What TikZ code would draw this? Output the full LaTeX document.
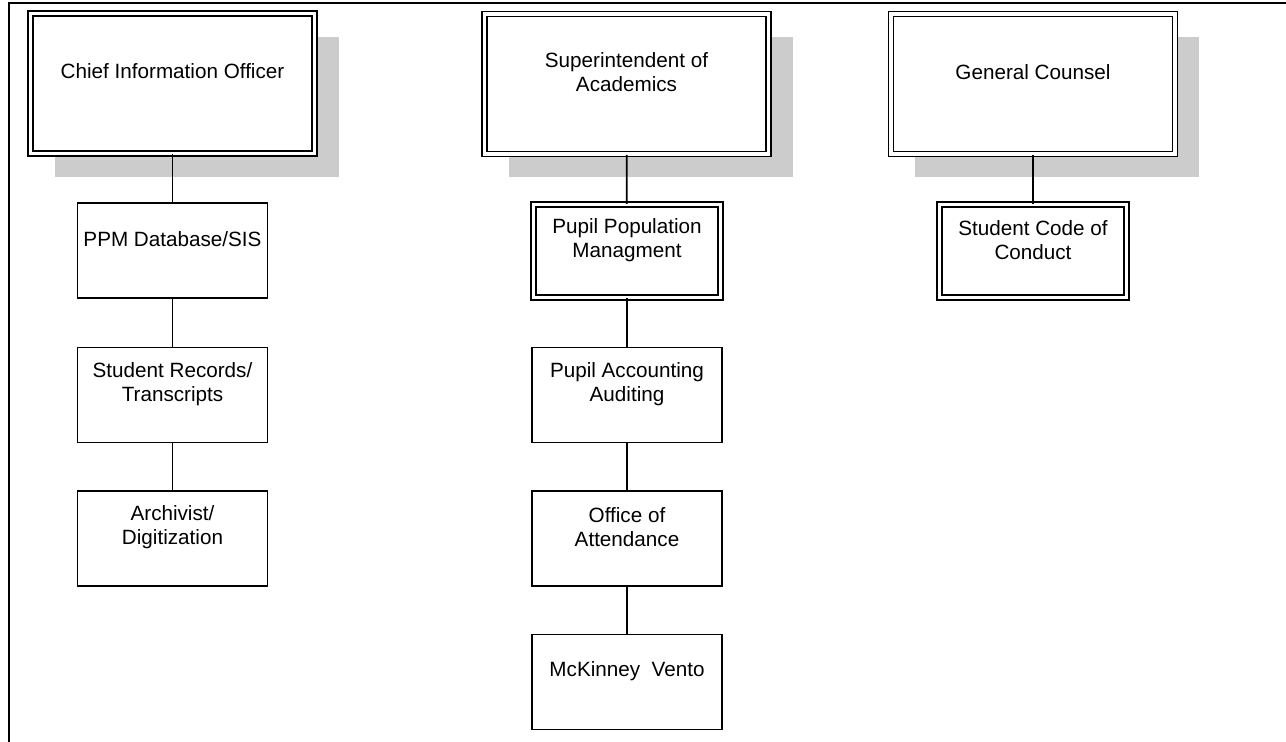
\documentclass[tikz,border=0pt]{standalone}
\usepackage{fontspec}
\setmainfont{Liberation Sans}
\usetikzlibrary{shadows}

\definecolor{shadowgray}{gray}{0.8}

\tikzset{
  boxtext/.style n args={3}{
    execute at begin node={\fontsize{15.5}{18}\selectfont\begin{minipage}[c][#1][t]{#2}\vbox to #3\bgroup\vfil\centering},
    execute at end node={\par\vfil\egroup\end{minipage}}},
  head/.style={draw, fill=white, double, double distance=2.3pt, line width=1.3pt,
    minimum width=213pt, minimum height=105pt, inner sep=0pt,
    drop shadow={shadow xshift=18pt, shadow yshift=-17.5pt, fill=shadowgray, opacity=1},
    boxtext={104pt}{205pt}{85.5pt}},
  unit/.style={draw, fill=white, line width=1.3pt,
    minimum width=142.5pt, minimum height=71.25pt, inner sep=0pt,
    boxtext={69pt}{140pt}{52.5pt}},
  dunit/.style={unit, double, double distance=2.3pt, minimum width=140.5pt, minimum height=69.5pt},
  link/.style={line width=1.3pt}
}

\begin{document}
\begin{tikzpicture}[x=0.75pt, y=-0.75pt]
    \useasboundingbox (0,0) rectangle (1286,742);
    % page frame
    \draw[line width=1.8pt] (9,742) -- (9,3) -- (1286,3);

    % heads
    \node[head] (cio) at (172.5,83.5) {Chief Information Officer};
    \node[head] (supt) at (626.5,84) {Superintendent of\\Academics};
    \node[head] (counsel) at (1033,84) {General Counsel};

    % left column
    \node[unit] (ppm) at (172.5,250.5) {PPM Database/SIS};
    \node[unit] (records) at (172.5,395) {Student Records/\\Transcripts};
    \node[unit] (archivist) at (172.5,538.5) {Archivist/\\Digitization};

    % middle column
    \node[dunit] (population) at (627,251) {Pupil Population\\Managment};
    \node[unit] (accounting) at (627,395) {Pupil Accounting\\Auditing};
    \node[unit] (attendance) at (627,538.5) {Office of\\Attendance};
    \node[unit] (mckinney) at (627,682) {McKinney~~Vento};

    % right column
    \node[dunit] (conduct) at (1033,251) {Student Code of\\Conduct};

    \foreach \a/\b in {cio/ppm, ppm/records, records/archivist,
                       supt/population, population/accounting, accounting/attendance, attendance/mckinney,
                       counsel/conduct} {
      \draw[link] (\a) -- (\b);
    }

  \end{tikzpicture}
\end{document}
